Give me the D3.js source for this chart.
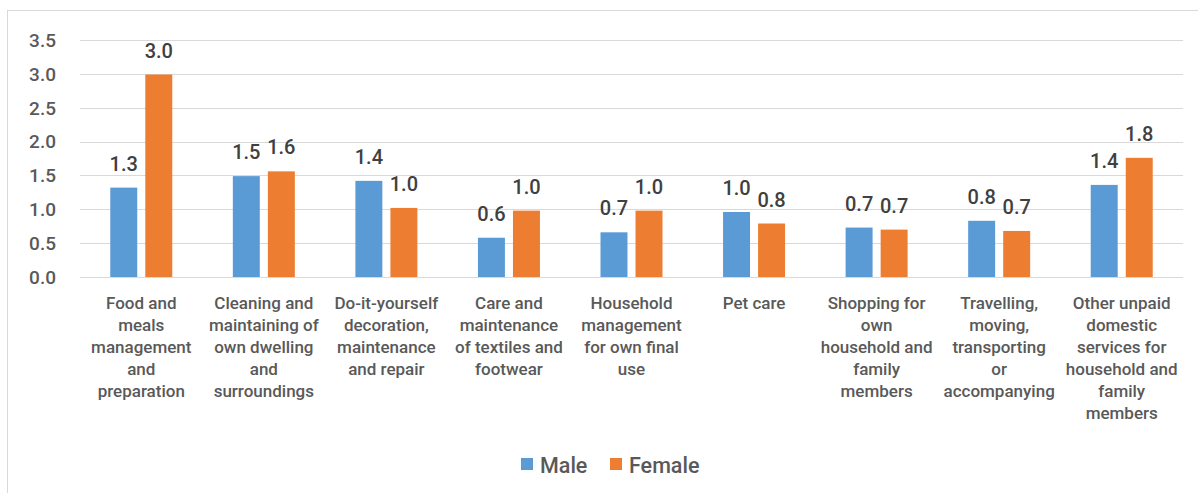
<!DOCTYPE html>
<html>
<head>
<meta charset="utf-8">
<script src="https://cdn.jsdelivr.net/npm/d3@7"></script>
<style>
  html, body { margin: 0; padding: 0; background: #fff; }
  svg { display: block; font-family: Roboto, "Noto Sans", sans-serif; font-weight: 500; }
</style>
</head>
<body>
<svg id="chart" width="1198" height="493"></svg>
<script>
// Unpaid domestic services: average hours per day, by sex
const categories = [
  "Food and\nmeals\nmanagement\nand\npreparation",
  "Cleaning and\nmaintaining of\nown dwelling\nand\nsurroundings",
  "Do-it-yourself\ndecoration,\nmaintenance\nand repair",
  "Care and\nmaintenance\nof textiles and\nfootwear",
  "Household\nmanagement\nfor own final\nuse",
  "Pet care",
  "Shopping for\nown\nhousehold and\nfamily\nmembers",
  "Travelling,\nmoving,\ntransporting\nor\naccompanying",
  "Other unpaid\ndomestic\nservices for\nhousehold and\nfamily\nmembers"
];
const seriesNames = ["Male", "Female"];
const maleValues   = [1.32, 1.49, 1.42, 0.58, 0.66, 0.96, 0.73, 0.83, 1.36];
const femaleValues = [2.99, 1.56, 1.02, 0.98, 0.98, 0.79, 0.70, 0.68, 1.76];
const yTicks = [0, 0.5, 1, 1.5, 2, 2.5, 3, 3.5];
const colors = ["#5B9BD5", "#ED7D31"];

const svg = d3.select("#chart");
const W = 1198, H = 493;
const plot = { left: 80, right: 1183, top: 40, bottom: 277 };

// outer chart frame
svg.append("rect")
  .attr("x", 7.5).attr("y", 10.5)
  .attr("width", W + 20).attr("height", H + 20)
  .attr("fill", "#fff").attr("stroke", "#d9d9d9").attr("stroke-width", 1);

const x = d3.scaleBand().domain(d3.range(categories.length))
  .range([plot.left, plot.right]).paddingInner(0).paddingOuter(0);
const xSub = d3.scaleBand().domain(seriesNames).range([-31, 31]).paddingInner(0.23);
const y = d3.scaleLinear().domain([0, 3.5]).range([plot.bottom, plot.top]);

// horizontal gridlines
svg.append("g")
  .selectAll("line").data(yTicks).join("line")
  .attr("x1", plot.left).attr("x2", plot.right)
  .attr("y1", d => Math.round(y(d)) + 0.5).attr("y2", d => Math.round(y(d)) + 0.5)
  .attr("stroke", "#d9d9d9").attr("stroke-width", 1.2);

// y axis labels
svg.append("g")
  .selectAll("text").data(yTicks).join("text")
  .attr("x", 56).attr("y", d => y(d))
  .attr("dy", "0.36em")
  .attr("text-anchor", "end")
  .attr("font-size", 19)
  .attr("fill", "#595959")
  .text(d => d3.format(".1f")(d));

// bars and value labels
const rows = categories.map((c, i) => ({ i, vals: [maleValues[i], femaleValues[i]] }));
const groups = svg.append("g").selectAll("g").data(rows).join("g")
  .attr("transform", d => `translate(${x(d.i) + x.bandwidth() / 2},0)`);

groups.selectAll("rect")
  .data(d => d.vals.map((v, k) => ({ v, k })))
  .join("rect")
  .attr("x", d => xSub(seriesNames[d.k]))
  .attr("width", xSub.bandwidth())
  .attr("y", d => y(d.v))
  .attr("height", d => y(0) - y(d.v))
  .attr("fill", d => colors[d.k]);

groups.selectAll("text.val")
  .data(d => d.vals.map((v, k) => ({ v, k })))
  .join("text")
  .attr("class", "val")
  .attr("x", d => xSub(seriesNames[d.k]) + xSub.bandwidth() / 2)
  .attr("y", d => y(d.v) - 17)
  .attr("text-anchor", "middle")
  .attr("font-size", 20)
  .attr("fill", "#404040")
  .text(d => d3.format(".1f")(d.v));

// category labels
svg.append("g").selectAll("text").data(categories).join("text")
  .attr("text-anchor", "middle")
  .attr("font-size", 17)
  .attr("fill", "#595959")
  .each(function (c, i) {
    const t = d3.select(this);
    c.split("\n").forEach((line, j) => {
      t.append("tspan")
        .attr("x", x(i) + x.bandwidth() / 2)
        .attr("y", 309 + j * 22)
        .text(line);
    });
  });

// legend
const legend = svg.append("g");
const legendX = [521, 610];
seriesNames.forEach((name, k) => {
  legend.append("rect")
    .attr("x", legendX[k]).attr("y", 458)
    .attr("width", 12).attr("height", 12)
    .attr("fill", colors[k]);
  legend.append("text")
    .attr("x", legendX[k] + 19).attr("y", 472.5)
    .attr("font-size", 21.5)
    .attr("fill", "#595959")
    .text(name);
});
</script>
</body>
</html>
